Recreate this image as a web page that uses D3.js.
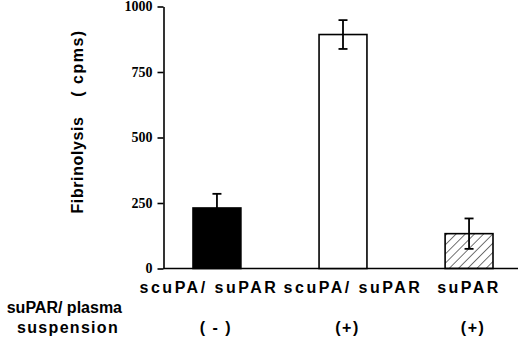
<!DOCTYPE html>
<html>
<head>
<meta charset="utf-8">
<script src="https://cdn.jsdelivr.net/npm/d3@7"></script>
<style>
  body { margin: 0; background: #fff; }
  svg { display: block; }
  .lbl { font-family: "Liberation Sans", Arial, sans-serif; font-weight: bold; font-size: 16px; fill: #000; }
</style>
</head>
<body>
<script>
// data
var categories = ["scuPA/ suPAR", "scuPA/ suPAR ", "suPAR"];
var plasmaLabels = ["( - )", "(+)", "(+)"];
var means = [231, 893, 133];
var errors = [54, 55, 58];
var fills = ["solid", "open", "hatch"];
var yTicks = [0, 250, 500, 750, 1000];

var width = 520, height = 342;

var svg = d3.select("body")
            .append("svg")
            .attr("width", width)
            .attr("height", height);

// hatch pattern for the last bar
svg.append("defs")
   .append("pattern")
   .attr("id", "hatch")
   .attr("patternUnits", "userSpaceOnUse")
   .attr("width", 6.5)
   .attr("height", 6.5)
   .attr("patternTransform", "rotate(45)")
   .append("line")
   .attr("x1", 0).attr("y1", 0)
   .attr("x2", 0).attr("y2", 6.5)
   .attr("stroke", "#000")
   .attr("stroke-width", 1.1);

// scales
var xScale = d3.scaleBand()
    .domain(categories)
    .range([193, 493])
    .paddingInner(0.62)
    .paddingOuter(0);

var yScale = d3.scaleLinear()
    .domain([0, 1000])
    .range([268.5, 6.5]);

var axisX = 163.5;

// y axis
var yAxis = svg.append("g")
    .attr("transform", "translate(" + axisX + ",0)")
    .call(d3.axisLeft(yScale)
          .tickValues(yTicks)
          .tickFormat(d3.format("d"))
          .tickSize(6)
          .tickSizeOuter(0)
          .tickPadding(5));

yAxis.attr("font-family", "'Liberation Serif', 'Times New Roman', serif")
     .attr("font-weight", "bold")
     .attr("font-size", 14);
yAxis.select(".domain").attr("stroke-width", 1.6);
yAxis.selectAll(".tick line").attr("stroke-width", 1.6);
yAxis.selectAll(".tick text").attr("fill", "#000");

// baseline
svg.append("line")
   .attr("x1", axisX)
   .attr("x2", 518)
   .attr("y1", yScale(0))
   .attr("y2", yScale(0))
   .attr("stroke", "#000")
   .attr("stroke-width", 1.6);

// bars
svg.selectAll("rect.bar")
   .data(means)
   .enter()
   .append("rect")
   .attr("class", "bar")
   .attr("x", function(d, i) { return xScale(categories[i]); })
   .attr("width", xScale.bandwidth())
   .attr("y", function(d) { return yScale(d); })
   .attr("height", function(d) { return yScale(0) - yScale(d); })
   .attr("fill", function(d, i) {
       if (fills[i] === "solid") return "#000";
       if (fills[i] === "hatch") return "url(#hatch)";
       return "#fff";
   })
   .attr("stroke", "#000")
   .attr("stroke-width", 1.6);

// error bars
var err = svg.selectAll("g.err")
   .data(means)
   .enter()
   .append("g")
   .attr("class", "err")
   .attr("stroke", "#000")
   .attr("stroke-width", 1.8);

function cx(i) { return xScale(categories[i]) + xScale.bandwidth() / 2; }

err.append("line")
   .attr("x1", function(d, i) { return cx(i); })
   .attr("x2", function(d, i) { return cx(i); })
   .attr("y1", function(d, i) { return yScale(d - errors[i]); })
   .attr("y2", function(d, i) { return yScale(d + errors[i]); });

err.append("line")
   .attr("x1", function(d, i) { return cx(i) - 4.5; })
   .attr("x2", function(d, i) { return cx(i) + 4.5; })
   .attr("y1", function(d, i) { return yScale(d + errors[i]); })
   .attr("y2", function(d, i) { return yScale(d + errors[i]); });

err.append("line")
   .attr("x1", function(d, i) { return cx(i) - 4.5; })
   .attr("x2", function(d, i) { return cx(i) + 4.5; })
   .attr("y1", function(d, i) { return yScale(d - errors[i]); })
   .attr("y2", function(d, i) { return yScale(d - errors[i]); });

// labels under the bars are not quite centred in the original
var catShift = [-8, 10, 0];
var plasmaShift = [-1, 4.5, 4];

svg.selectAll("text.cat")
   .data(categories)
   .enter()
   .append("text")
   .attr("class", "lbl cat")
   .attr("x", function(d, i) { return cx(i) + catShift[i]; })
   .attr("y", 292.5)
   .attr("text-anchor", "middle")
   .style("letter-spacing", "2.5px")
   .text(function(d) { return d.trim(); });

// plasma row
svg.selectAll("text.plasma")
   .data(plasmaLabels)
   .enter()
   .append("text")
   .attr("class", "lbl plasma")
   .attr("x", function(d, i) { return cx(i) + plasmaShift[i]; })
   .attr("y", 333)
   .attr("text-anchor", "middle")
   .style("letter-spacing", "1.5px")
   .text(function(d) { return d; });

svg.append("text")
   .attr("class", "lbl")
   .attr("x", 122)
   .attr("y", 313)
   .attr("text-anchor", "end")
   .text("suPAR/ plasma");

svg.append("text")
   .attr("class", "lbl")
   .attr("x", 119)
   .attr("y", 333)
   .attr("text-anchor", "end")
   .style("letter-spacing", "1.3px")
   .text("suspension");

// y axis title
svg.append("text")
   .attr("class", "lbl")
   .attr("transform", "translate(83,165) rotate(-90)")
   .attr("text-anchor", "middle")
   .style("letter-spacing", "0.6px")
   .text("Fibrinolysis");

svg.append("text")
   .attr("class", "lbl")
   .attr("transform", "translate(83,63) rotate(-90)")
   .attr("text-anchor", "middle")
   .style("letter-spacing", "1.5px")
   .text("( cpms)");
</script>
</body>
</html>
